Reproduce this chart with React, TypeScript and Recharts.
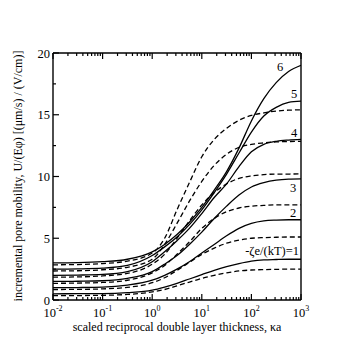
import React from "react"
import { LineChart, Line, XAxis, YAxis } from "recharts"

// scaled reciprocal double layer thickness, kappa*a
const kappa = [0.01, 0.0316, 0.1, 0.316, 1, 1.78, 3.16, 5.62, 10, 17.8, 31.6, 56.2, 100, 178, 316, 562, 1000]

// solid curves, -zeta e/(kT) = 1..6
const solid1 = [0.5, 0.51, 0.52, 0.6, 0.8, 1.05, 1.35, 1.7, 2.05, 2.4, 2.7, 2.95, 3.15, 3.25, 3.28, 3.3, 3.3]
const solid2 = [1.0, 1.01, 1.04, 1.2, 1.6, 2.0, 2.5, 3.1, 3.8, 4.5, 5.2, 5.8, 6.2, 6.4, 6.47, 6.5, 6.5]
const solid3 = [1.5, 1.52, 1.56, 1.75, 2.3, 2.9, 3.6, 4.5, 5.5, 6.6, 7.6, 8.5, 9.15, 9.5, 9.7, 9.78, 9.8]
const solid4 = [2.0, 2.02, 2.07, 2.3, 3.1, 3.9, 4.8, 5.8, 7.0, 8.3, 9.4, 10.8, 12.0, 12.6, 12.85, 12.95, 13.0]
const solid5 = [2.5, 2.52, 2.58, 2.8, 3.6, 4.3, 5.1, 6.1, 7.3, 8.7, 10.2, 11.9, 13.6, 14.9, 15.6, 16.0, 16.1]
const solid6 = [3.0, 3.02, 3.1, 3.3, 3.9, 4.5, 5.3, 6.3, 7.5, 8.9, 10.4, 12.3, 14.5, 16.3, 17.6, 18.5, 19.0]

// dashed curves
const dashed1 = [0.35, 0.36, 0.38, 0.45, 0.65, 0.85, 1.15, 1.45, 1.75, 2.0, 2.2, 2.35, 2.43, 2.46, 2.48, 2.5, 2.5]
const dashed2 = [0.85, 0.86, 0.9, 1.02, 1.4, 1.8, 2.4, 3.05, 3.7, 4.2, 4.6, 4.85, 5.0, 5.05, 5.08, 5.1, 5.1]
const dashed3 = [1.35, 1.37, 1.42, 1.6, 2.2, 2.8, 3.7, 4.7, 5.8, 6.6, 7.15, 7.45, 7.6, 7.66, 7.7, 7.7, 7.7]
const dashed4 = [1.85, 1.87, 1.95, 2.15, 2.9, 3.7, 5.0, 6.4, 7.7, 8.7, 9.4, 9.85, 10.05, 10.15, 10.2, 10.2, 10.22]
const dashed5 = [2.35, 2.37, 2.45, 2.65, 3.3, 4.5, 6.2, 8.0, 9.6, 10.9, 11.8, 12.35, 12.6, 12.72, 12.8, 12.83, 12.85]
const dashed6 = [2.85, 2.87, 2.95, 3.15, 3.8, 5.0, 7.3, 9.5, 11.6, 13.0, 13.9, 14.55, 14.95, 15.15, 15.3, 15.37, 15.4]

const solids = [solid1, solid2, solid3, solid4, solid5, solid6]
const dashes = [dashed1, dashed2, dashed3, dashed4, dashed5, dashed6]

const xMajor = [0.01, 0.1, 1, 10, 100, 1000]
const xExponents = ["-2", "-1", "0", "1", "2", "3"]
const yMajor = [0, 5, 10, 15, 20]
const yMinor = [2.5, 7.5, 12.5, 17.5]
const curveLabels = ["-ζe/(kT)=1", "2", "3", "4", "5", "6"]

const xMinor: number[] = []
xMajor.slice(0, -1).forEach((m) => {
  for (let k = 2; k <= 9; k++) xMinor.push(m * k)
})
const xTicks = [...xMajor, ...xMinor].sort((a, b) => a - b)
const yTicks = [...yMajor, ...yMinor].sort((a, b) => a - b)

const data = kappa.map((k, i) => {
  const row: Record<string, number> = { k }
  solids.forEach((s, j) => (row["s" + (j + 1)] = s[i]))
  dashes.forEach((d, j) => (row["d" + (j + 1)] = d[i]))
  return row
})

const serif = { fontFamily: "Liberation Serif, serif" }

const majorIndex = (v: number) => xMajor.findIndex((m) => Math.abs(m - v) / m < 1e-6)

const XTick = ({ x, y, payload, top }: any) => {
  const idx = majorIndex(payload.value)
  const len = idx >= 0 ? 6 : 3
  const dir = top ? 1 : -1
  return (
    <g>
      <line x1={x} x2={x} y1={y} y2={y + dir * len} stroke="#000" strokeWidth={1.2} />
      {!top && idx >= 0 && (
        <text x={x} y={y + 17} textAnchor="middle" fontSize={12.5} style={serif} fill="#000">
          10<tspan dy={-6} fontSize={8}>{xExponents[idx]}</tspan>
        </text>
      )}
    </g>
  )
}

const YTick = ({ x, y, payload, right }: any) => {
  const major = yMajor.includes(payload.value)
  const len = major ? 6 : 3
  const dir = right ? -1 : 1
  return (
    <g>
      <line x1={x} x2={x + dir * len} y1={y} y2={y} stroke="#000" strokeWidth={1.2} />
      {!right && major && (
        <text x={x - 3} y={y + 4.5} textAnchor="end" fontSize={12.5} style={serif} fill="#000">
          {payload.value}
        </text>
      )}
    </g>
  )
}

const axisLine = { stroke: "#000", strokeWidth: 1.4 }

export default function App() {
  return (
    <div style={{ position: "absolute", left: 0, top: 0, width: 354, height: 354, background: "#fff" }}>
      <LineChart width={354} height={354} data={data} margin={{ top: 52, right: 52, bottom: 0, left: 0 }}>
        <XAxis
          dataKey="k"
          type="number"
          scale="log"
          domain={[0.01, 1000]}
          allowDataOverflow
          ticks={xTicks}
          interval={0}
          height={54}
          tickSize={0}
          tickMargin={0}
          tickLine={false}
          axisLine={axisLine}
          tick={<XTick />}
        />
        <XAxis
          xAxisId="top"
          orientation="top"
          dataKey="k"
          type="number"
          scale="log"
          domain={[0.01, 1000]}
          allowDataOverflow
          ticks={xTicks}
          interval={0}
          height={1}
          tickSize={0}
          tickMargin={0}
          tickLine={false}
          axisLine={axisLine}
          tick={<XTick top />}
        />
        <YAxis
          type="number"
          domain={[0, 20]}
          ticks={yTicks}
          interval={0}
          width={53}
          tickSize={0}
          tickMargin={0}
          tickLine={false}
          axisLine={axisLine}
          tick={<YTick />}
        />
        <YAxis
          yAxisId="right"
          orientation="right"
          type="number"
          domain={[0, 20]}
          ticks={yTicks}
          interval={0}
          width={1}
          tickSize={0}
          tickMargin={0}
          tickLine={false}
          axisLine={axisLine}
          tick={<YTick right />}
        />
        {dashes.map((_, j) => (
          <Line
            key={"d" + j}
            dataKey={"d" + (j + 1)}
            type="monotone"
            stroke="#000"
            strokeWidth={1.3}
            strokeDasharray="5 3"
            dot={false}
            isAnimationActive={false}
          />
        ))}
        {solids.map((_, j) => (
          <Line
            key={"s" + j}
            dataKey={"s" + (j + 1)}
            type="monotone"
            stroke="#000"
            strokeWidth={1.3}
            dot={false}
            isAnimationActive={false}
          />
        ))}
      </LineChart>
      <svg width={354} height={354} style={{ position: "absolute", left: 0, top: 0, pointerEvents: "none" }}>
        <g style={serif} fontSize={12.5} fill="#000">
          <text x={18} y={176} transform="rotate(-90 18 176)" textAnchor="middle" dominantBaseline="central" fontSize={12}>
            incremental pore mobility, U/(Eφ) [(μm/s) / (V/cm)]
          </text>
          <text x={177} y={331} textAnchor="middle" fontSize={12}>
            scaled reciprocal double layer thickness, κa
          </text>
          <text x={299} y={255} textAnchor="end">{curveLabels[0]}</text>
          <text x={290} y={217}>{curveLabels[1]}</text>
          <text x={290} y={192}>{curveLabels[2]}</text>
          <text x={291} y={137}>{curveLabels[3]}</text>
          <text x={291} y={98}>{curveLabels[4]}</text>
          <text x={277} y={71}>{curveLabels[5]}</text>
        </g>
      </svg>
    </div>
  )
}
